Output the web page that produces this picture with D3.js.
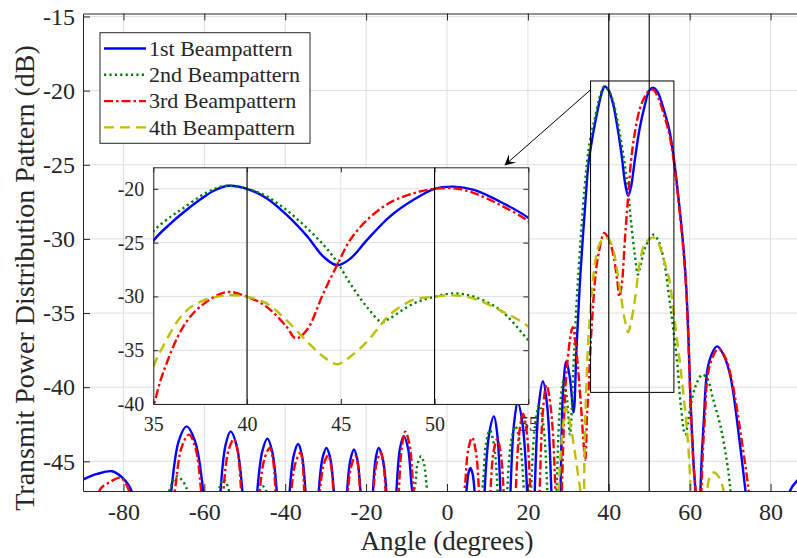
<!DOCTYPE html>
<html><head><meta charset="utf-8">
<script src="https://cdn.jsdelivr.net/npm/d3@7"></script>
<style>
body{margin:0;background:#fff}
svg{display:block}
text{font-family:"Liberation Serif","Times New Roman",serif;fill:#262626}
</style>
</head><body><svg id="c" width="797" height="558"></svg>
<script>
// ---------------- data ----------------
const xTicks = [-80,-60,-40,-20,0,20,40,60,80];
const yTicks = [-45,-40,-35,-30,-25,-20,-15];
const insetXTicks = [35,40,45,50,55];
const insetYTicks = [-40,-35,-30,-25,-20];
const markerAngles = [40,50];
const seriesNames = ["1st Beampattern","2nd Beampattern","3rd Beampattern","4th Beampattern"];
const zoomBoxX = [35.5, 56.1];
const zoomBoxY = [-19.35, -40.35];
const arrowFrom = [35.5, -19.95];
const arrowTo = [14.2, -25.05];

const beam1 = [[-90,-46.23],[-86.5,-45.85],[-82.8,-45.67],[-80.3,-46.1],[-78,-47],
[-73.1,-60],
[-68.2,-47],[-66.3,-43.6],[-64.4,-42.64],[-62.35,-43.6],[-60.3,-47],
[-58.15,-60],
[-56,-47],[-54.75,-43.9],[-53.5,-42.98],[-52.05,-43.9],[-50.6,-47],
[-48.75,-60],
[-46.9,-47],[-45.65,-44.3],[-44.4,-43.47],[-43.25,-44.3],[-42.1,-47],
[-40.5,-60],
[-38.9,-47],[-37.85,-44.55],[-36.8,-43.83],[-35.9,-44.55],[-35,-47],
[-33.35,-60],
[-31.7,-47],[-30.75,-44.75],[-29.8,-44.1],[-28.9,-44.75],[-28,-47],
[-26.35,-60],
[-24.7,-47],[-23.85,-44.85],[-23.0,-44.2],[-22.2,-44.85],[-21.4,-47],
[-19.85,-60],
[-18.3,-47],[-17.6,-44.75],[-16.9,-44.1],[-15.95,-44.75],[-15,-47],
[-13.75,-60],
[-12.5,-47],[-11.6,-44.1],[-10.7,-43.3],[-9.65,-44.1],[-8.6,-47],
[-2,-60],
[4.8,-47],[5.3,-45.8],[5.8,-45.45],[6.3,-45.8],[6.8,-47],
[8.05,-60],
[9.3,-47],[10.45,-43.1],[11.6,-41.97],[12.4,-43.1],[13.2,-47],
[14.45,-60],
[15.7,-47],[16.6,-42.4],[17.5,-41.06],[18.65,-42.4],[19.8,-47],
[20.75,-60],
[21.7,-47],[22.7,-41.2],[23.7,-39.6],[24.75,-41.2],[25.8,-47],
[26.9,-60],
[28.05,-47],[28.75,-40.0],[29.5,-38.26],[30.4,-39.4],[31.3,-41.7],[32.0,-37.5],[32.6,-34.3],[33.0,-32.3],[34.2,-27.6],[35,-24.85],[36,-23.1],[36.6,-22.2],[37.5,-21.0],[38.2,-20.2],[39.0,-19.72],[40,-20],[41.04,-20.87],[42.1,-22.4],[43.2,-24.4],[44.07,-26.3],[44.8,-27.1],[45.5,-26.5],[46.4,-24.75],[47.6,-22.6],[48.9,-21.0],[50,-20],[51,-19.8],[52.1,-20.1],[53.5,-21.2],[55,-22.7],[56,-24.4],[57.3,-27.4],[58.5,-30.7],[59.2,-33.5],[59.8,-37.5],[60.2,-40.8],[61.0,-45.3],[61.4,-47],[62,-60],
[62.65,-47],[63.5,-42.2],[64.7,-38.4],[66.8,-37.25],[68.5,-37.9],[70.1,-39.3],[72.5,-44.0],[73.8,-47],[79.3,-60],
[84.8,-47],[86.6,-46.3],[88.3,-45.8],[90,-45.7]];

const beam2 = [[-90,-60],
[-68.7,-47],[-67.7,-46.3],[-66.7,-46.0],[-65.45,-46.3],[-64.2,-47],
[-60,-60],
[-56.4,-47],[-55.85,-46.45],[-55.3,-46.2],[-54.6,-46.45],[-53.9,-47],
[-50,-60],
[-46.3,-47],[-45.5,-46.7],[-44.7,-47],
[-27,-60],
[-8.2,-47],[-7.3,-45.2],[-6.4,-44.66],[-5.65,-45.2],[-4.9,-47],
[2,-60],
[8.7,-47],[9.65,-43.8],[10.6,-42.9],[11.55,-43.8],[12.5,-47],
[13.7,-60],
[14.9,-47],[15.9,-43.6],[16.9,-42.64],[17.95,-43.6],[19.0,-47],
[19.9,-60],
[20.8,-47],[21.8,-42.5],[22.8,-41.2],[23.8,-42.5],[24.8,-47],
[26,-60],
[27.1,-47],[27.95,-41.3],[28.8,-39.6],[29.6,-40.6],[30.4,-43.2],[31.2,-39],[32,-34.5],[33,-30.2],[34,-26.6],[35,-23.97],[36,-22.5],[36.6,-21.8],[37.5,-20.7],[38.2,-20.05],[38.9,-19.72],[40,-20],[41.04,-20.7],[42.1,-21.96],[43.2,-23.66],[44.07,-25.2],[44.8,-26.8],[45.5,-28.8],[46.4,-31.0],[47.2,-32.4],[47.6,-32.05],[48.9,-30.65],[50,-30.03],[51,-29.72],[52.1,-30.03],[53.5,-31.27],[55,-34.07],[56,-36.2],[56.9,-38.3],[57.8,-41.2],[58.9,-43.2],[60.2,-41.3],[61.5,-39.9],[63.1,-39.16],[64.3,-39.4],[65.8,-40.8],[67.6,-42.6],[69.2,-45],[70.1,-47],[74,-60],[90,-60]];

const beam3 = [[-90,-60],
[-86,-47],[-83.35,-46.4],[-80.7,-46.1],[-79.65,-46.4],[-78.6,-47],
[-73,-60],
[-67.3,-47],[-65.55,-44.0],[-63.8,-43.2],[-62.3,-44.0],[-60.8,-47],
[-58,-60],
[-55.3,-47],[-54.0,-44.25],[-52.7,-43.5],[-51.8,-44.25],[-50.9,-47],
[-48.6,-60],
[-46.3,-47],[-45.05,-44.75],[-43.8,-44.1],[-43.1,-44.75],[-42.4,-47],
[-40.45,-60],
[-38.5,-47],[-37.35,-45],[-36.2,-44.4],[-35.75,-45],[-35.3,-47],
[-33.35,-60],
[-31.4,-47],[-30.4,-45.15],[-29.4,-44.6],[-28.75,-45.15],[-28.1,-47],
[-26.3,-60],
[-24.5,-47],[-23.55,-45.2],[-22.6,-44.66],[-22.05,-45.2],[-21.5,-47],
[-19.9,-60],
[-18.2,-47],[-17.3,-45],[-16.4,-44.4],[-15.8,-45],[-15.2,-47],
[-13.6,-60],
[-11.9,-47],[-11.1,-43.9],[-10.3,-43.0],[-9.25,-43.9],[-8.2,-47],
[-2,-60],
[4.3,-47],[5.25,-44.2],[6.2,-43.4],[7.05,-44.2],[7.9,-47],
[9.3,-60],
[10.75,-47],[11.55,-44.3],[12.4,-43.5],[13.2,-44.3],[14.0,-47],
[15.5,-60],
[17.0,-47],[17.9,-43],[18.8,-41.8],[19.7,-43],[20.6,-47],
[21.75,-60],
[22.9,-47],[23.75,-41.5],[24.6,-39.85],[25.7,-41.5],[26.8,-47],
[27.6,-60],
[28.4,-47],[29.7,-38.5],[31.1,-35.95],[32,-37.6],[33,-40.8],[34.2,-44.9],[34.6,-42],[35,-40.2],[35.5,-37.2],[36.6,-32.8],[37.5,-30.96],[38.9,-29.6],[40,-30.03],[41.04,-30.96],[42.1,-32.8],[42.6,-33.9],[43.2,-33.1],[44.07,-29.7],[44.8,-27.1],[45.5,-24.75],[46.4,-22.9],[47.6,-21.3],[48.9,-20.4],[50,-20],[51,-19.94],[52.1,-20.4],[53.5,-21.5],[55,-23.0],[56,-24.6],[57.3,-27.6],[58.5,-30.9],[59.2,-33.7],[59.8,-37.7],[60.2,-41],[61.0,-45.5],[61.5,-47],[62.2,-60],
[62.9,-47],[63.7,-42.3],[64.9,-38.6],[67.1,-37.4],[68.8,-38],[70.4,-39.5],[73.2,-44.2],[74.6,-47],[80,-60],[90,-60]];

const beam4 = [[-90,-60],[26,-60],
[27.6,-47],[28.4,-43.5],[29.4,-41.4],[30.4,-42.4],[31.5,-44.2],[32.6,-46.3],[33.2,-47.5],[33.6,-52],[34.1,-43],[34.6,-38.8],[35,-36.55],[35.5,-34.7],[36.6,-31.6],[37.5,-30.5],[38.9,-29.9],[40,-30.03],[41.04,-30.65],[42.1,-32.2],[43.2,-34.2],[44.07,-35.6],[44.8,-36.3],[45.5,-35.6],[46.4,-34.2],[47.2,-32.5],[47.6,-31.7],[48.9,-30.3],[50,-30.03],[51,-29.9],[52.1,-30.2],[53.5,-31.3],[55,-32.8],[56.05,-35.0],[57.7,-38.6],[59.4,-43.1],[60.2,-46.7],[60.8,-55],[62.5,-60],
[64.3,-47],[65.1,-46.0],[65.9,-45.75],[67.1,-46.0],[68.4,-47],[72,-60],[90,-60]];

const beams = [beam1, beam2, beam3, beam4];
const colors = ["#0000ff","#008000","#ff0000","#bfbf00"];
const dashes = [null, "2.2,3.2", "9,3,2.5,3", "10,6"];
const lineW = 2.4;

// ---------------- drawing ----------------
const svg = d3.select("#c");
svg.append("rect").attr("width",797).attr("height",558).attr("fill","#fff");

const M = {left:83, right:811, top:13.5, bottom:491};
const x = d3.scaleLinear().domain([-90,90]).range([M.left, M.right]);
const y = d3.scaleLinear().domain([-47,-14.8]).range([M.bottom, M.top]);
const I = {left:153.3, right:528.3, top:167.3, bottom:404};
const ix = d3.scaleLinear().domain([35,55]).range([I.left, I.right]);
const iy = d3.scaleLinear().domain([-40,-18]).range([I.bottom, I.top]);

const defs = svg.append("defs");
defs.append("clipPath").attr("id","mainClip").append("rect")
  .attr("x",M.left).attr("y",M.top).attr("width",M.right-M.left).attr("height",M.bottom-M.top);
defs.append("clipPath").attr("id","insetClip").append("rect")
  .attr("x",I.left).attr("y",I.top).attr("width",I.right-I.left).attr("height",I.bottom-I.top);

const gridColor = "#dfdfdf";
const axisColor = "#262626";
const serif = "'Liberation Serif','Times New Roman',serif";
const fmt = d => String(d);

function styleAxis(g, size){
  g.attr("font-family", serif).attr("font-size", size);
  g.select(".domain").attr("stroke",axisColor).attr("stroke-width",1);
  g.selectAll(".tick line").attr("stroke",axisColor).attr("stroke-width",1);
  g.selectAll("text").attr("fill",axisColor).style("font-family",serif).style("font-size",size);
}

// main grid
const mg = svg.append("g");
mg.selectAll("line.gx").data(xTicks).enter().append("line")
  .attr("x1",d=>x(d)).attr("x2",d=>x(d)).attr("y1",M.top).attr("y2",M.bottom)
  .attr("stroke",gridColor).attr("stroke-width",1);
mg.selectAll("line.gy").data(yTicks).enter().append("line")
  .attr("x1",M.left).attr("x2",M.right).attr("y1",d=>y(d)).attr("y2",d=>y(d))
  .attr("stroke",gridColor).attr("stroke-width",1);

// inset tick labels (drawn beneath main curves)
svg.append("g").attr("transform",`translate(0,${I.bottom})`)
  .call(d3.axisBottom(ix).tickValues(insetXTicks).tickSize(0).tickPadding(12.5).tickFormat(fmt))
  .call(g=>g.select(".domain").remove())
  .call(g=>styleAxis(g,"20px"));
svg.append("g").attr("transform",`translate(${I.left},0)`)
  .call(d3.axisLeft(iy).tickValues(insetYTicks).tickSize(0).tickPadding(9).tickFormat(fmt))
  .call(g=>g.select(".domain").remove())
  .call(g=>styleAxis(g,"20px"));

// main curves
const mainLine = d3.line().x(d=>x(d[0])).y(d=>y(d[1])).curve(d3.curveCatmullRom.alpha(0.5));
const mc = svg.append("g").attr("clip-path","url(#mainClip)");
beams.forEach((b,i)=>{
  mc.append("path").attr("d",mainLine(b)).attr("fill","none")
    .attr("stroke",colors[i]).attr("stroke-width",lineW)
    .attr("stroke-dasharray",dashes[i]);
});
mc.selectAll("line.mk").data(markerAngles).enter().append("line")
  .attr("x1",d=>x(d)).attr("x2",d=>x(d)).attr("y1",M.top).attr("y2",M.bottom)
  .attr("stroke","#000").attr("stroke-width",1.1);

// main axes
svg.append("g").attr("transform",`translate(0,${M.bottom})`)
  .call(d3.axisBottom(x).tickValues(xTicks).tickSize(-7).tickSizeOuter(0).tickPadding(12).tickFormat(fmt))
  .call(g=>styleAxis(g,"24px"));
svg.append("g").attr("transform",`translate(0,${M.top})`)
  .call(d3.axisTop(x).tickValues(xTicks).tickSize(-7).tickSizeOuter(0).tickFormat(""))
  .call(g=>styleAxis(g,"24px"));
svg.append("g").attr("transform",`translate(${M.left},0)`)
  .call(d3.axisLeft(y).tickValues(yTicks).tickSize(-7).tickSizeOuter(0).tickPadding(8).tickFormat(fmt))
  .call(g=>styleAxis(g,"24px"));
svg.append("g").attr("transform",`translate(${M.right},0)`)
  .call(d3.axisRight(y).tickValues(yTicks).tickSize(-7).tickSizeOuter(0).tickFormat(""))
  .call(g=>styleAxis(g,"24px"));

// axis labels
svg.append("text").attr("x",x(0)).attr("y",550).attr("text-anchor","middle")
  .style("font-size","27px").text("Angle (degrees)");
svg.append("text").attr("transform","translate(34,278) rotate(-90)").attr("text-anchor","middle")
  .style("font-size","28px").text("Transmit Power Distribution Pattern (dB)");

// zoom box
svg.append("rect").attr("x",x(zoomBoxX[0])).attr("y",y(zoomBoxY[0]))
  .attr("width",x(zoomBoxX[1])-x(zoomBoxX[0])).attr("height",y(zoomBoxY[1])-y(zoomBoxY[0]))
  .attr("fill","none").attr("stroke","#000").attr("stroke-width",1);

// arrow
{
  const x1=x(arrowFrom[0]), y1=y(arrowFrom[1]), x2=x(arrowTo[0]), y2=y(arrowTo[1]);
  const dx=x2-x1, dy=y2-y1, L=Math.hypot(dx,dy), ux=dx/L, uy=dy/L, nx=-uy, ny=ux;
  const hl=11, hw=5.5;
  svg.append("line").attr("x1",x1).attr("y1",y1).attr("x2",x2-ux*6).attr("y2",y2-uy*6)
    .attr("stroke","#000").attr("stroke-width",1);
  const p = [[x2,y2],[x2-ux*hl+nx*hw,y2-uy*hl+ny*hw],[x2-ux*hl*0.55,y2-uy*hl*0.55],[x2-ux*hl-nx*hw,y2-uy*hl-ny*hw]];
  svg.append("path").attr("d","M"+p.map(q=>q.join(",")).join("L")+"Z").attr("fill","#000");
}

// ---------------- inset ----------------
svg.append("rect").attr("x",I.left).attr("y",I.top).attr("width",I.right-I.left).attr("height",I.bottom-I.top)
  .attr("fill","#fff");
const ig = svg.append("g");
ig.selectAll("line.gx").data(insetXTicks).enter().append("line")
  .attr("x1",d=>ix(d)).attr("x2",d=>ix(d)).attr("y1",I.top).attr("y2",I.bottom)
  .attr("stroke",gridColor).attr("stroke-width",1);
ig.selectAll("line.gy").data(insetYTicks).enter().append("line")
  .attr("x1",I.left).attr("x2",I.right).attr("y1",d=>iy(d)).attr("y2",d=>iy(d))
  .attr("stroke",gridColor).attr("stroke-width",1);
const insetLine = d3.line().x(d=>ix(d[0])).y(d=>iy(d[1])).curve(d3.curveCatmullRom.alpha(0.5));
const ic = svg.append("g").attr("clip-path","url(#insetClip)");
beams.forEach((b,i)=>{
  ic.append("path").attr("d",insetLine(b)).attr("fill","none")
    .attr("stroke",colors[i]).attr("stroke-width",lineW)
    .attr("stroke-dasharray",dashes[i]);
});
ic.selectAll("line.mk").data(markerAngles).enter().append("line")
  .attr("x1",d=>ix(d)).attr("x2",d=>ix(d)).attr("y1",I.top).attr("y2",I.bottom)
  .attr("stroke","#000").attr("stroke-width",1.1);
svg.append("g").attr("transform",`translate(0,${I.bottom})`)
  .call(d3.axisBottom(ix).tickValues(insetXTicks).tickSize(-5).tickSizeOuter(0).tickFormat(""))
  .call(g=>styleAxis(g,"20px"));
svg.append("g").attr("transform",`translate(0,${I.top})`)
  .call(d3.axisTop(ix).tickValues(insetXTicks).tickSize(-5).tickSizeOuter(0).tickFormat(""))
  .call(g=>styleAxis(g,"20px"));
svg.append("g").attr("transform",`translate(${I.left},0)`)
  .call(d3.axisLeft(iy).tickValues(insetYTicks).tickSize(-5).tickSizeOuter(0).tickFormat(""))
  .call(g=>styleAxis(g,"20px"));
svg.append("g").attr("transform",`translate(${I.right},0)`)
  .call(d3.axisRight(iy).tickValues(insetYTicks).tickSize(-5).tickSizeOuter(0).tickFormat(""))
  .call(g=>styleAxis(g,"20px"));

// ---------------- legend ----------------
const lg = svg.append("g");
lg.append("rect").attr("x",100).attr("y",32.7).attr("width",210).attr("height",110.6)
  .attr("fill","#fff").attr("stroke",axisColor).attr("stroke-width",1);
seriesNames.forEach((name,i)=>{
  const cy = 48.5 + i*26.3;
  lg.append("line").attr("x1",104).attr("x2",146).attr("y1",cy).attr("y2",cy)
    .attr("stroke",colors[i]).attr("stroke-width",lineW).attr("stroke-dasharray",dashes[i]);
  lg.append("text").attr("x",149).attr("y",cy).attr("dy","0.33em")
    .style("font-size","22px").attr("fill","#000").text(name);
});
</script>
</body></html>
